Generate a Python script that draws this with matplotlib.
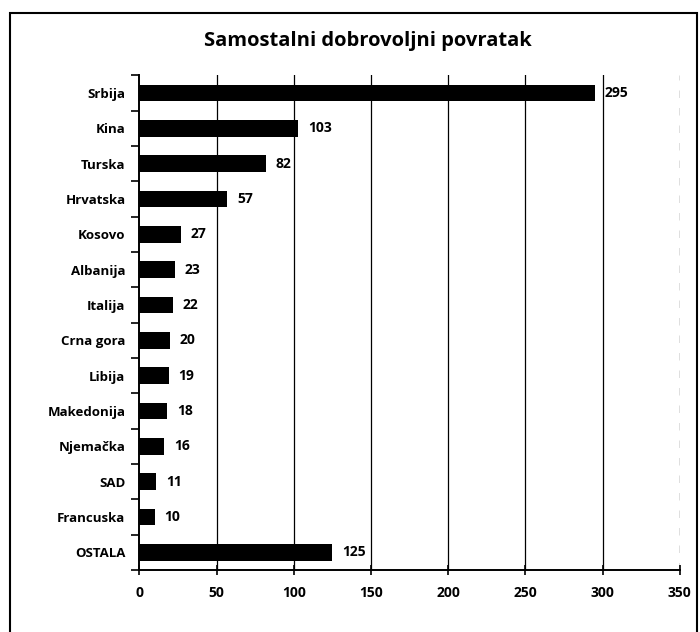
import numpy as np
import matplotlib.pyplot as plt
from matplotlib.patches import Rectangle

# Data
countries = ['Srbija', 'Kina', 'Turska', 'Hrvatska', 'Kosovo', 'Albanija', 'Italija',
             'Crna gora', 'Libija', 'Makedonija', 'Njemačka', 'SAD', 'Francuska', 'OSTALA']
values = [295, 103, 82, 57, 27, 23, 22, 20, 19, 18, 16, 11, 10, 125]
xticks = [0, 50, 100, 150, 200, 250, 300, 350]

plt.rcParams['font.family'] = ['Open Sans', 'DejaVu Sans']

fig = plt.figure(figsize=(7, 6.32), dpi=100)
ax = fig.add_axes([0.199, 0.098, 0.772, 0.783])

y = np.arange(len(countries))
ax.barh(y, values, height=0.47, color='black', zorder=3)
for yi, v in zip(y, values):
    ax.annotate(str(v), (v, yi), xytext=(7, 0), textcoords='offset points',
                va='center', ha='left', fontsize=10, fontweight='bold')

ax.set_ylim(len(countries) - 0.5, -0.5)
ax.set_xlim(0, 350)
ax.set_xticks(xticks)
ax.set_xticklabels([str(t) for t in xticks], fontsize=10, fontweight='bold')

# category labels centred, ticks on category boundaries
ax.set_yticks(y)
ax.set_yticklabels(countries, fontsize=9.5, fontweight='bold')
ax.tick_params(axis='y', length=0, pad=10)
ax.set_yticks(np.arange(-0.5, len(countries), 1), minor=True)
ax.tick_params(axis='y', which='minor', length=6, width=1.2, direction='out')
ax.tick_params(axis='x', length=7, width=1.2, direction='inout', pad=8)

for s in ['top', 'right']:
    ax.spines[s].set_visible(False)
for s in ['left', 'bottom']:
    ax.spines[s].set_linewidth(1.4)

for t in xticks[1:]:
    ax.axvline(t, color='black', lw=0.9, ls='--' if t == 350 else '-',
               dashes=(6, 8) if t == 350 else (None, None), zorder=1)

fig.text(0.525, 0.935, 'Samostalni dobrovoljni povratak', ha='center', va='center',
         fontsize=14.5, fontweight='bold')

# outer frame
fig.patches.append(Rectangle((0.014, -0.05), 0.982, 1.03, transform=fig.transFigure,
                             fill=False, edgecolor='black', lw=1.5))

fig.savefig('out.png', dpi=100)
